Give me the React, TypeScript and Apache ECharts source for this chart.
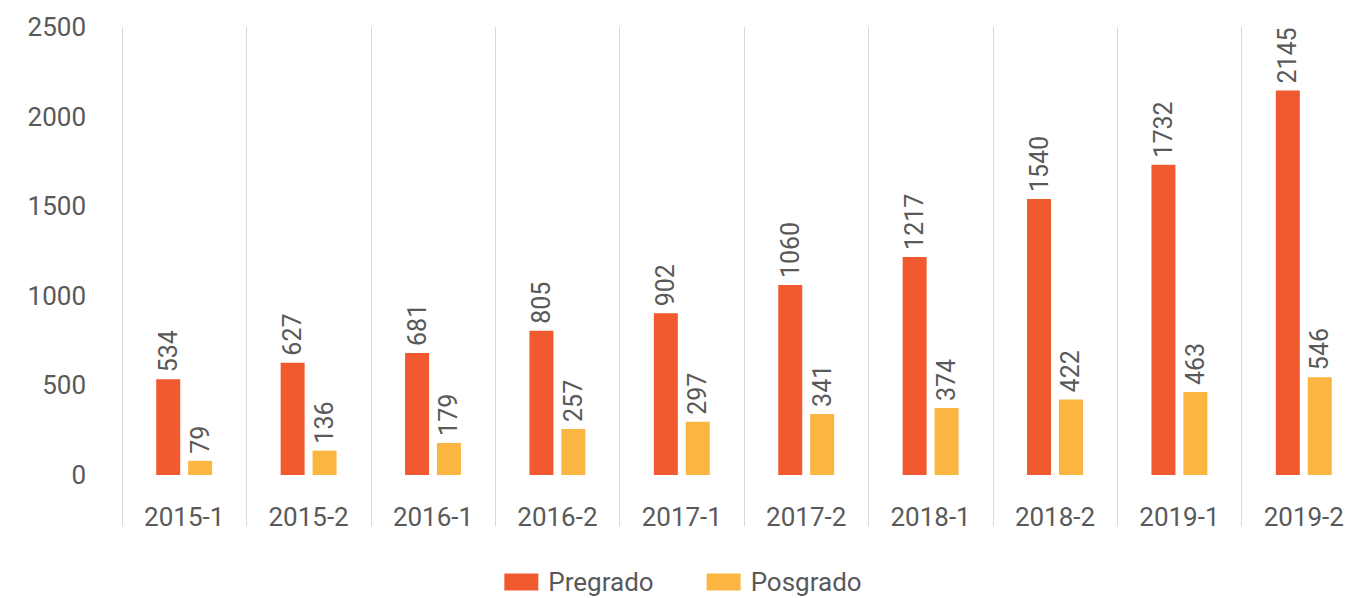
import React, { useEffect, useRef } from "react";
import * as echarts from "echarts";

const categories = ["2015-1", "2015-2", "2016-1", "2016-2", "2017-1", "2017-2", "2018-1", "2018-2", "2019-1", "2019-2"];
const pregrado = [534, 627, 681, 805, 902, 1060, 1217, 1540, 1732, 2145];
const posgrado = [79, 136, 179, 257, 297, 341, 374, 422, 463, 546];

const FONT = "Roboto";
const TXT = "#595959";

export default function App() {
  const ref = useRef<HTMLDivElement>(null);
  useEffect(() => {
    if (!ref.current) return;
    const chart = echarts.init(ref.current, undefined, { renderer: "svg" });
    const label = {
      show: true,
      position: "top",
      rotate: 90,
      align: "left",
      verticalAlign: "middle",
      distance: 7,
      color: TXT,
      fontFamily: FONT,
      fontSize: 25,
    };
    chart.setOption({
      animation: false,
      backgroundColor: "#ffffff",
      grid: { left: 122, right: 0, top: 27, bottom: 123, containLabel: false },
      legend: {
        bottom: -2,
        left: "center",
        itemWidth: 34,
        itemHeight: 17,
        itemGap: 53,
        icon: "rect",
        textStyle: { color: TXT, fontFamily: FONT, fontSize: 26, padding: [0, 0, 0, 5] },
        data: ["Pregrado", "Posgrado"],
      },
      xAxis: {
        type: "category",
        data: categories,
        boundaryGap: true,
        axisLine: { show: false },
        axisTick: { show: true, length: 51, lineStyle: { color: "#d9d9d9", width: 1 } },
        splitLine: { show: true, lineStyle: { color: "#d9d9d9", width: 1 } },
        axisLabel: { color: TXT, fontFamily: FONT, fontSize: 26, margin: 29 },
      },
      yAxis: {
        type: "value",
        min: 0,
        max: 2500,
        interval: 500,
        splitLine: { show: false },
        axisLine: { show: false },
        axisTick: { show: false },
        axisLabel: {
          color: TXT,
          fontFamily: FONT,
          fontSize: 26,
          margin: 36,
          formatter: (v: number) => String(v),
        },
      },
      series: [
        {
          name: "Pregrado",
          type: "bar",
          data: pregrado,
          barWidth: 24,
          barGap: "33%",
          itemStyle: { color: "#F15A2E" },
          label,
        },
        {
          name: "Posgrado",
          type: "bar",
          data: posgrado,
          barWidth: 24,
          itemStyle: { color: "#FBB641" },
          label,
        },
      ],
    });
    return () => chart.dispose();
  }, []);
  return (
    <div
      ref={ref}
      style={{ position: "fixed", left: 0, top: 0, width: 1366, height: 598, background: "#fff" }}
    />
  );
}
